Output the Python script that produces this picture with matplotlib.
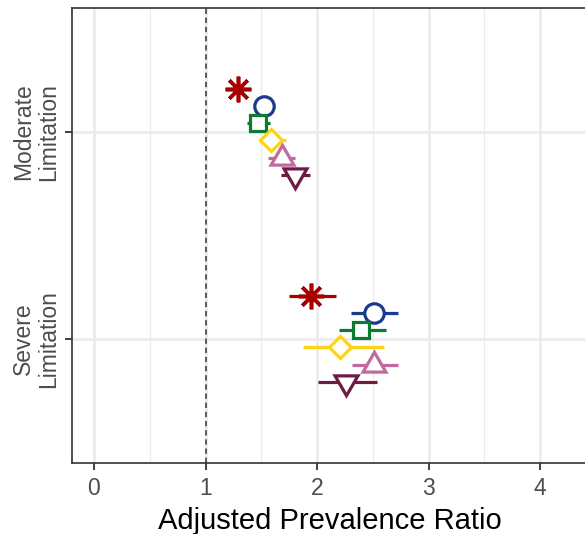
from __future__ import annotations

import matplotlib

matplotlib.use("Agg")
import matplotlib.pyplot as plt

# categories, bottom to top on the y axis
categories = ["Severe\nLimitation", "Moderate\nLimitation"]

# six estimates per category, listed top to bottom within a category
groups = ["g1", "g2", "g3", "g4", "g5", "g6"]
group_colors = ["#A80000", "#1A3A8C", "#0B7B2F", "#FFD21A", "#C06A9E", "#6D1A45"]

moderate_est = [1.29, 1.52, 1.47, 1.59, 1.69, 1.80]
moderate_lo = [1.22, 1.46, 1.37, 1.48, 1.56, 1.68]
moderate_hi = [1.36, 1.59, 1.58, 1.72, 1.80, 1.94]

severe_est = [1.95, 2.51, 2.39, 2.21, 2.51, 2.26]
severe_lo = [1.75, 2.30, 2.20, 1.87, 2.31, 2.01]
severe_hi = [2.17, 2.73, 2.62, 2.60, 2.73, 2.54]

x_ticks = [0, 1, 2, 3, 4]
x_label = "Adjusted Prevalence Ratio"


def marker_style(i: int) -> dict:
    # asterisk, circle, square, diamond, triangle up, triangle down
    styles = [
        dict(marker=(8, 2, 0), markersize=18.5),
        dict(marker="o", markersize=14),
        dict(marker="s", markersize=11.5),
        dict(marker="D", markersize=11),
        dict(marker=(3, 0, 0), markersize=19),
        dict(marker=(3, 0, 180), markersize=19),
    ]
    return styles[i]


def main() -> None:
    plt.rcParams["font.family"] = ["Liberation Sans", "DejaVu Sans"]
    fig = plt.figure(figsize=(5.85, 5.34), dpi=100)
    ax = fig.add_axes([72 / 585, 71 / 534, 515 / 585, (463 - 7.5) / 534])

    dodge = 0.5 / len(groups)
    data = [
        (1, severe_est, severe_lo, severe_hi),
        (2, moderate_est, moderate_lo, moderate_hi),
    ]
    for pos, est, lo, hi in data:
        for i, color in enumerate(group_colors):
            y = pos + (2.5 - i) * dodge
            ax.hlines(y, lo[i], hi[i], color=color, lw=2.3, zorder=3 + i)
            st = marker_style(i)
            ax.plot(
                est[i], y,
                linestyle="none",
                marker=st["marker"],
                markersize=st["markersize"],
                markerfacecolor="none" if i == 0 else "white",
                markeredgecolor=color,
                markeredgewidth=2.6 if i == 0 else 2.3,
                zorder=3.5 + i,
            )

    ax.axvline(1, color="#333333", lw=1.1, linestyle=(0, (3.5, 2.5)), zorder=2)

    ax.set_xlim(-0.197, 4.42)
    ax.set_ylim(0.4, 2.6)
    ax.set_xticks(x_ticks)
    ax.set_xticks([0.5, 1.5, 2.5, 3.5], minor=True)
    ax.set_yticks([1, 2])
    ax.set_yticklabels(categories, rotation=90, va="center", ha="center",
                       multialignment="center", linespacing=1.12)
    ax.tick_params(axis="y", which="major", pad=21)

    ax.grid(True, which="major", color="#EBEBEB", lw=1.9, zorder=0)
    ax.grid(True, which="minor", axis="x", color="#EBEBEB", lw=0.9, zorder=0)
    ax.set_axisbelow(True)

    ax.tick_params(which="major", length=5, width=1.3, color="#333333",
                   labelcolor="#4D4D4D", labelsize=16.5)
    ax.tick_params(axis="x", pad=5)
    ax.tick_params(which="minor", length=0)
    for sp in ax.spines.values():
        sp.set_color("#333333")
        sp.set_linewidth(1.2)

    fig.text((72 + 587) / 2 / 585, 5 / 534, x_label, ha="center",
             va="baseline", fontsize=21, color="black")

    fig.savefig("out.png", dpi=100)
    plt.close(fig)


if __name__ == "__main__":
    main()
